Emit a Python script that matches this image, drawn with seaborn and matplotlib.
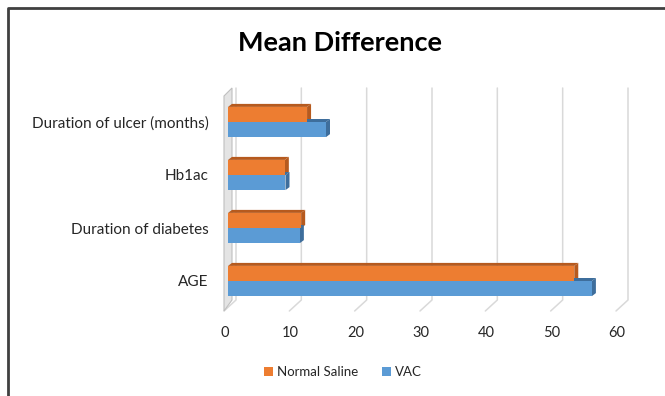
import matplotlib
matplotlib.use("Agg")
import matplotlib.pyplot as plt
import matplotlib.transforms as mtransforms
from matplotlib.lines import Line2D
from matplotlib.patches import Patch, Polygon
import pandas as pd
import seaborn as sns

# data
categories = ["Duration of ulcer (months)", "Hb1ac", "Duration of diabetes", "AGE"]
normal_saline = [12.1, 8.7, 11.2, 53.0]
vac = [15.0, 8.8, 11.0, 55.7]
groups = ["Normal Saline", "VAC"]
x_ticks = [0, 10, 20, 30, 40, 50, 60]

df = pd.DataFrame({
    "Category": categories * 2,
    "Value": normal_saline + vac,
    "Group": [groups[0]] * len(categories) + [groups[1]] * len(categories),
})

sns.set_theme(style="white")
plt.rcParams["font.family"] = ["Lato", "DejaVu Sans"]

W, H = 665, 396
fig = plt.figure(figsize=(W / 100, H / 100), dpi=100)
ax = fig.add_axes([228 / W, 1 - 307.5 / H, 392 / W, 212 / H])
ax.set_zorder(2)
ax.patch.set_visible(False)

front = {"Normal Saline": "#ED7D31", "VAC": "#5B9BD5"}
side = {"Normal Saline": "#B65A1E", "VAC": "#3E6E9C"}

sns.barplot(data=df, y="Category", x="Value", hue="Group", order=categories,
            hue_order=groups, palette=front, width=0.57, orient="h",
            saturation=1, linewidth=0, legend=False, zorder=3, ax=ax)

ax.set_xlim(0, 60)
ax.set_ylim(len(categories) - 0.5, -0.5)
ax.set_xticks(x_ticks)
ax.set_xlabel("")
ax.set_ylabel("")
for s in ax.spines.values():
    s.set_visible(False)
ax.tick_params(axis="y", length=0, pad=14, labelsize=11, labelcolor="#262626")
ax.tick_params(axis="x", length=0, pad=13, labelsize=10.5, labelcolor="#262626")


def px2fig(x, y):
    # pixel position from top-left to figure fraction
    return x / W, 1 - y / H


def fig_poly(pts, **kw):
    pts = [px2fig(x, y) for x, y in pts]
    fig.add_artist(Polygon(pts, closed=True, transform=fig.transFigure, **kw))


def fig_line(xs, ys, **kw):
    p = [px2fig(x, y) for x, y in zip(xs, ys)]
    fig.add_artist(Line2D([a for a, b in p], [b for a, b in p],
                          transform=fig.transFigure, **kw))


fig.canvas.draw()

# 3D-style gridlines on the back wall
for t in x_ticks:
    xp = ax.transData.transform((t, 0))[0]
    fig_line([xp + 8, xp + 8, xp - 4], [88, 300, 311], color="#D9D9D9", lw=1.1, zorder=0)

# left wall
fig_poly([(224, 311), (232, 300), (232, 88), (224, 96)],
         facecolor="#E4E4E4", edgecolor="#BFBFBF", lw=0.8, zorder=0.5)

# depth faces on bars
dx, dy = 4, 3
inv = ax.transData.inverted()
for patch, grp in zip(ax.patches, [g for g in groups for _ in categories]):
    x0, y0 = patch.get_x(), patch.get_y()
    x1, y1 = x0 + patch.get_width(), y0 + patch.get_height()
    (L, B), (R, T) = ax.transData.transform([(x0, y1), (x1, y0)])
    L, R = min(L, R), max(L, R)
    B, T = min(B, T), max(B, T)
    top = inv.transform([(L, T), (R, T), (R + dx, T + dy), (L + dx, T + dy)])
    rgt = inv.transform([(R, B), (R, T), (R + dx, T + dy), (R + dx, B + dy)])
    ax.add_patch(Polygon(top, closed=True, facecolor=side[grp], lw=0, zorder=2))
    ax.add_patch(Polygon(rgt, closed=True, facecolor=side[grp], lw=0, zorder=2))

# nudge x tick labels a little left, like the 3D floor labels
shift = mtransforms.ScaledTranslation(-3 / 100, 0, fig.dpi_scale_trans)
for lab in ax.get_xticklabels():
    lab.set_transform(lab.get_transform() + shift)

# chart border (only top and left visible in the crop)
fig_line([8, 8, W + 2], [H + 2, 8, 8], color="#404040", lw=2, zorder=10)

fig.text(340 / W, 1 - 43 / H, "Mean Difference", ha="center", va="center",
         fontsize=19.5, fontweight="bold", color="black")

handles = [Patch(facecolor=front[g], edgecolor="none") for g in groups]
fig.legend(handles, groups, loc="center", bbox_to_anchor=(343 / W, 1 - 372 / H),
           ncol=2, frameon=False, fontsize=9.5, handlelength=0.7, handleheight=0.7,
           handletextpad=0.3, columnspacing=1.8, labelcolor="#262626")

fig.savefig("out.png", dpi=100)
